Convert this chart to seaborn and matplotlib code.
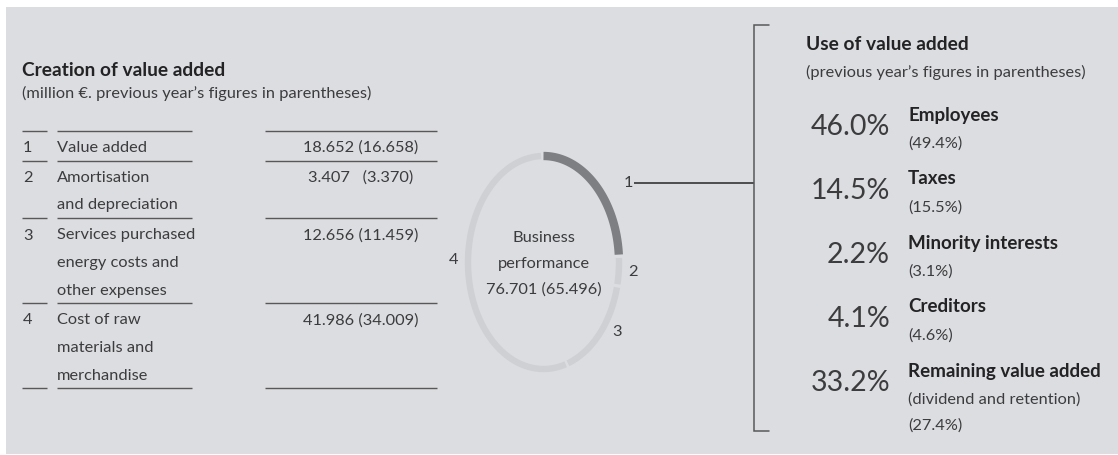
import numpy as np
import pandas as pd
import matplotlib
matplotlib.use("Agg")
import matplotlib.pyplot as plt
import seaborn as sns

# ---- data -------------------------------------------------------------
row_numbers = ["1", "2", "3", "4"]
row_labels = [
    "Value added",
    "Amortisation\nand depreciation",
    "Services purchased\nenergy costs and\nother expenses",
    "Cost of raw\nmaterials and\nmerchandise",
]
current_values = [18.652, 3.407, 12.656, 41.986]
previous_values = [16.658, 3.370, 11.459, 34.009]
total_current = 76.701
total_previous = 65.496

use_names = ["Employees", "Taxes", "Minority interests", "Creditors",
             "Remaining value added"]
use_notes = ["", "", "", "", "(dividend and retention)"]
use_share = [46.0, 14.5, 2.2, 4.1, 33.2]
use_share_prev = [49.4, 15.5, 3.1, 4.6, 27.4]

# ---- style ------------------------------------------------------------
sns.set_theme(style="white")
plt.rcParams["font.family"] = ["Lato", "DejaVu Sans"]

BG = "#dcdde0"
TXT = "#3c3c3e"
HEAD = "#232325"
RULE = "#58585a"
RING_LIGHT = "#cfd0d3"
RING_DARK = "#7e7f82"

W, H = 1118, 455
fig = plt.figure(figsize=(W / 100, H / 100), dpi=100)
fig.patch.set_facecolor("white")
ax = fig.add_axes([0, 0, 1, 1])
ax.set_xlim(0, W)
ax.set_ylim(H, 0)
ax.axis("off")

ax.add_patch(plt.Rectangle((6, 7), W - 6, H - 8, facecolor=BG, edgecolor="none", zorder=0))

body = dict(color=TXT, fontsize=11.8, fontweight="normal")
head = dict(color=HEAD, fontsize=13.8, fontweight="bold")

# ---- left: creation of value added table ------------------------------
ax.text(22, 70, "Creation of value added", va="center", **head)
ax.text(22, 93, "(million \u20ac. previous year\u2019s figures in parentheses)",
        va="center", **body)

pitch = 27.5
col_spans = [(22, 47), (57, 192), (265, 437)]
starts = []
y = 148
for lbl in row_labels:
    starts.append(y)
    y += (len(lbl.split("\n")) - 1) * pitch + 30

boundaries = [s - 17.5 for s in starts]
last_lines = len(row_labels[-1].split("\n"))
boundaries.append(starts[-1] + (last_lines - 1) * pitch + 12.5)
for b in boundaries:
    for x0, x1 in col_spans:
        ax.plot([x0, x1], [b, b], color=RULE, lw=1.0, solid_capstyle="butt")

for num, lbl, cur, prev, s in zip(row_numbers, row_labels, current_values,
                                  previous_values, starts):
    ax.text(23, s, num, va="center", **body)
    for k, line in enumerate(lbl.split("\n")):
        ax.text(57, s + k * pitch, line, va="center", **body)
    cur_s = f"{cur:.3f}"
    gap = " " * (1 + 2 * (6 - len(cur_s)))
    ax.text(361, s, f"{cur_s}{gap}({prev:.3f})", ha="center", va="center", **body)

# ---- centre: business performance ring --------------------------------
cx, cy, rx, ry = 543.5, 262.5, 75.5, 106.5
gap_deg = 1.8
shares = np.array(current_values) / total_current
ends = np.cumsum(shares) * 360
begins = ends - shares * 360
frames = []
for i, (a0, a1) in enumerate(zip(begins, ends)):
    th = np.radians(np.linspace(a0, a1 - gap_deg, 120))
    frames.append(pd.DataFrame({
        "x": cx + rx * np.sin(th),
        "y": cy - ry * np.cos(th),
        "segment": row_numbers[i],
    }))
ring = pd.concat(frames, ignore_index=True)
for i, seg in enumerate(row_numbers):
    sub = ring[ring["segment"] == seg]
    sns.lineplot(data=sub, x="x", y="y", sort=False, estimator=None, ax=ax,
                 color=RING_DARK if i == 0 else RING_LIGHT,
                 lw=6.0 if i == 0 else 4.6, solid_capstyle="butt", legend=False)
ax.set_xlim(0, W)
ax.set_ylim(H, 0)
ax.axis("off")

ax.text(cx, 238, "Business", ha="center", va="center", **body)
ax.text(cx, 264, "performance", ha="center", va="center", **body)
ax.text(cx, 290, f"{total_current:.3f} ({total_previous:.3f})", ha="center",
        va="center", **body)

ring_label_pos = [(628, 183), (633, 272), (617, 332), (454, 260)]
for num, (lx, ly) in zip(row_numbers, ring_label_pos):
    ax.text(lx, ly, num, ha="center", va="center", **body)

# connector and bracket
ax.plot([634, 754], [183, 183], color="#262628", lw=1.1, solid_capstyle="butt")
ax.plot([769, 754, 754, 769], [25, 25, 431, 431], color=RULE, lw=1.1,
        solid_joinstyle="miter")

# ---- right: use of value added ----------------------------------------
ax.text(806, 45, "Use of value added", va="center", **head)
ax.text(806, 72, "(previous year\u2019s figures in parentheses)", va="center", **body)

for i, (name, note, pct, prev) in enumerate(zip(use_names, use_notes, use_share,
                                                use_share_prev)):
    ny = 115 + 64 * i
    ax.text(890, ny + 12, f"{pct:.1f}%", ha="right", va="center", color=TXT,
            fontsize=20.5, fontweight="normal")
    ax.text(908, ny, name, va="center", **{**head, "fontsize": 13.5})
    yy = ny + 29
    if note:
        ax.text(908, yy, note, va="center", **body)
        yy += 26
    ax.text(908, yy, f"({prev:.1f}%)", va="center", **body)

fig.savefig("out.png", dpi=100, facecolor=fig.get_facecolor())
